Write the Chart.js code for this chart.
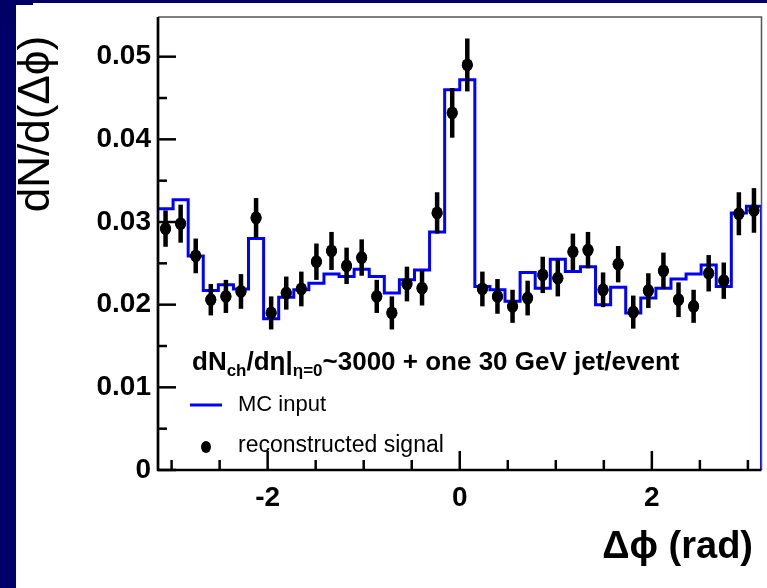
<!DOCTYPE html>
<html>
<head>
<meta charset="utf-8">
<script src="https://cdn.jsdelivr.net/npm/chart.js@4.4.1/dist/chart.umd.min.js"></script>
<style>
  html, body { margin: 0; padding: 0; background: #ffffff; }
  #wrap { position: relative; width: 767px; height: 588px; overflow: hidden; }
  #chart { position: absolute; left: 0; top: 0; }
  .navy { position: absolute; background: #000066; }
</style>
</head>
<body>
<div id="wrap">
  <canvas id="chart" width="767" height="588"></canvas>
  <div class="navy" style="left:0;top:0;width:16px;height:588px"></div>
  <div class="navy" style="left:0;top:0;width:767px;height:3px"></div>
  <div class="navy" style="left:0;top:0;width:33px;height:5px"></div>
</div>
<script>
// Histogram binning: 40 bins over -pi .. pi
const nBins = 40;
const phiMin = -Math.PI;
const phiMax = Math.PI;

// MC input (blue histogram), one value per bin
const mcInput = [
  0.0316, 0.0327, 0.0259, 0.0217, 0.0224, 0.0219, 0.0280, 0.0183, 0.0209, 0.0218,
  0.0226, 0.0237, 0.0234, 0.0243, 0.0234, 0.0214, 0.0230, 0.0242, 0.0288, 0.0460,
  0.0472, 0.0222, 0.0218, 0.0204, 0.0239, 0.0220, 0.0255, 0.0240, 0.0246, 0.0200,
  0.0221, 0.0190, 0.0208, 0.0220, 0.0231, 0.0237, 0.0248, 0.0222, 0.0311, 0.0319
];

// reconstructed signal (black points) and their errors
const recoSignal = [
  0.0292, 0.0298, 0.0259, 0.0206, 0.0210, 0.0216, 0.0305, 0.0190, 0.0214, 0.0219,
  0.0252, 0.0265, 0.0247, 0.0257, 0.0210, 0.0190, 0.0225, 0.0220, 0.0311, 0.0432,
  0.0490, 0.0219, 0.0210, 0.0198, 0.0208, 0.0236, 0.0232, 0.0264, 0.0266, 0.0218,
  0.0249, 0.0191, 0.0217, 0.0241, 0.0206, 0.0198, 0.0238, 0.0229, 0.0310, 0.0314
];
const recoError = [
  0.0022, 0.0023, 0.0021, 0.0019, 0.0020, 0.0021, 0.0024, 0.0020, 0.0020, 0.0021,
  0.0022, 0.0023, 0.0022, 0.0022, 0.0020, 0.0020, 0.0021, 0.0021, 0.0025, 0.0030,
  0.0032, 0.0021, 0.0021, 0.0020, 0.0021, 0.0022, 0.0022, 0.0022, 0.0022, 0.0021,
  0.0022, 0.0020, 0.0021, 0.0022, 0.0021, 0.0020, 0.0022, 0.0022, 0.0026, 0.0027
];

// axis ticks and labels
const xTickValues = [-3, -2.5, -2, -1.5, -1, -0.5, 0, 0.5, 1, 1.5, 2, 2.5, 3];
const xLabelValues = [-2, 0, 2];
const yTickValues = [0, 0.005, 0.01, 0.015, 0.02, 0.025, 0.03, 0.035, 0.04, 0.045, 0.05];
const yLabelValues = [0, 0.01, 0.02, 0.03, 0.04, 0.05];
const yMax = 0.0548;

const xTitle = '\u0394\u03d5 (rad)';
const yTitle = 'dN/d(\u0394\u03d5)';
const legendMC = 'MC input';
const legendReco = 'reconstructed signal';

const binWidth = (phiMax - phiMin) / nBins;

// histogram as stepped line: left edge of each bin, then close at the right edge
const histData = mcInput.map((v, i) => ({ x: phiMin + i * binWidth, y: v }));
histData.push({ x: phiMax, y: mcInput[nBins - 1] });
histData.push({ x: phiMax, y: 0 });

const pointData = recoSignal.map((v, i) => ({ x: phiMin + (i + 0.5) * binWidth, y: v }));

const isIn = (list, v) => list.some(t => Math.abs(t - v) < 1e-9);

// error bars on the reconstructed points
const errorBars = {
  id: 'errorBars',
  afterDatasetsDraw(chart) {
    const xs = chart.scales.x, ys = chart.scales.y, ctx = chart.ctx;
    ctx.save();
    ctx.strokeStyle = '#000';
    ctx.lineWidth = 4.5;
    recoSignal.forEach((v, i) => {
      const px = xs.getPixelForValue(pointData[i].x);
      ctx.beginPath();
      ctx.moveTo(px, ys.getPixelForValue(v - recoError[i]));
      ctx.lineTo(px, ys.getPixelForValue(v + recoError[i]));
      ctx.stroke();
      ctx.beginPath();
      ctx.ellipse(px, ys.getPixelForValue(v), 5.5, 6.5, 0, 0, Math.PI * 2);
      ctx.fillStyle = '#000';
      ctx.fill();
    });
    ctx.restore();
  }
};

// ROOT style frame, inner ticks, legend and axis titles
const frameAndText = {
  id: 'frameAndText',
  afterDraw(chart) {
    const ctx = chart.ctx, a = chart.chartArea;
    const xs = chart.scales.x, ys = chart.scales.y;
    ctx.save();
    // thin top / right frame
    ctx.strokeStyle = '#555';
    ctx.lineWidth = 1.5;
    ctx.beginPath();
    ctx.moveTo(a.left, a.top);
    ctx.lineTo(a.right, a.top);
    ctx.lineTo(a.right, a.bottom);
    ctx.stroke();
    // inner ticks
    ctx.strokeStyle = '#000';
    ctx.lineWidth = 2.5;
    xTickValues.forEach(v => {
      const px = xs.getPixelForValue(v);
      const len = isIn(xLabelValues, v) ? 19 : 10;
      ctx.beginPath();
      ctx.moveTo(px, a.bottom);
      ctx.lineTo(px, a.bottom - len);
      ctx.stroke();
    });
    yTickValues.forEach(v => {
      const py = ys.getPixelForValue(v);
      const len = isIn(yLabelValues, v) ? 18 : 9;
      ctx.beginPath();
      ctx.moveTo(a.left, py);
      ctx.lineTo(a.left + len, py);
      ctx.stroke();
    });
    // axes
    ctx.lineWidth = 2.7;
    ctx.beginPath();
    ctx.moveTo(a.left, a.top);
    ctx.lineTo(a.left, a.bottom);
    ctx.lineTo(a.right, a.bottom);
    ctx.stroke();

    // legend header
    ctx.fillStyle = '#000';
    ctx.textBaseline = 'alphabetic';
    ctx.textAlign = 'left';
    let x = 192;
    const base = 370;
    const big = 'bold 26px "Liberation Sans", Arial, sans-serif';
    const small = 'bold 17px "Liberation Sans", Arial, sans-serif';
    const parts = [
      ['dN', big, 0], ['ch', small, 6], ['/d\u03b7|', big, 0], ['\u03b7=0', small, 6],
      ['~3000 + one 30 GeV jet/event', big, 0]
    ];
    parts.forEach(([t, f, dy]) => {
      ctx.font = f;
      ctx.fillText(t, x, base + dy);
      x += ctx.measureText(t).width;
    });

    // legend entries
    ctx.strokeStyle = '#0000ff';
    ctx.lineWidth = 3;
    ctx.beginPath();
    ctx.moveTo(190, 405);
    ctx.lineTo(222, 405);
    ctx.stroke();
    ctx.fillStyle = '#000';
    ctx.beginPath();
    ctx.ellipse(206, 447, 5, 6, 0, 0, Math.PI * 2);
    ctx.fill();
    ctx.textBaseline = 'middle';
    ctx.font = '22px "Liberation Sans", Arial, sans-serif';
    ctx.fillText(legendMC, 238, 405);
    ctx.font = '23px "Liberation Sans", Arial, sans-serif';
    ctx.fillText(legendReco, 238, 446);

    // axis titles
    ctx.font = 'bold 38px "Liberation Sans", Arial, sans-serif';
    ctx.textAlign = 'right';
    ctx.fillText(xTitle, 753, 548);
    ctx.save();
    ctx.translate(37, 124);
    ctx.rotate(-Math.PI / 2);
    ctx.textAlign = 'center';
    ctx.font = '44px "Liberation Sans", Arial, sans-serif';
    ctx.fillText(yTitle, 0, 0);
    ctx.restore();
    ctx.restore();
  }
};

new Chart(document.getElementById('chart'), {
  data: {
    datasets: [{
      type: 'scatter',
      label: legendReco,
      data: pointData,
      backgroundColor: '#000',
      borderColor: '#000',
      pointRadius: 5.5,
      pointBorderWidth: 0
    }, {
      type: 'line',
      label: legendMC,
      data: histData,
      stepped: true,
      borderColor: '#0000ff',
      borderWidth: 3,
      pointRadius: 0,
      fill: false
    }]
  },
  options: {
    responsive: false,
    animation: false,
    devicePixelRatio: 1,
    layout: { padding: { left: 16, top: 17, right: 0, bottom: 0 } },
    plugins: {
      legend: { display: false },
      tooltip: { enabled: false }
    },
    scales: {
      x: {
        type: 'linear',
        min: phiMin,
        max: phiMax,
        afterFit: s => { s.height = 118; s.paddingLeft = 0; s.paddingRight = 0; },
        afterBuildTicks: s => { s.ticks = xTickValues.map(v => ({ value: v })); },
        grid: { display: false, drawTicks: false },
        border: { display: false },
        ticks: {
          autoSkip: false,
          maxRotation: 0,
          padding: 11,
          color: '#000',
          font: { family: '"Liberation Sans", Arial, sans-serif', size: 28, weight: 'bold' },
          callback: v => isIn(xLabelValues, v) ? String(v) : ''
        }
      },
      y: {
        type: 'linear',
        min: 0,
        max: yMax,
        afterFit: s => { s.width = 142; s.paddingTop = 0; s.paddingBottom = 0; },
        afterBuildTicks: s => { s.ticks = yTickValues.map(v => ({ value: v })); },
        grid: { display: false, drawTicks: false },
        border: { display: false },
        ticks: {
          autoSkip: false,
          padding: 7,
          color: '#000',
          font: { family: '"Liberation Sans", Arial, sans-serif', size: 28, weight: 'bold' },
          callback: v => isIn(yLabelValues, v) ? (v === 0 ? '0' : v.toFixed(2)) : ''
        }
      }
    }
  },
  plugins: [errorBars, frameAndText]
});
</script>
</body>
</html>
